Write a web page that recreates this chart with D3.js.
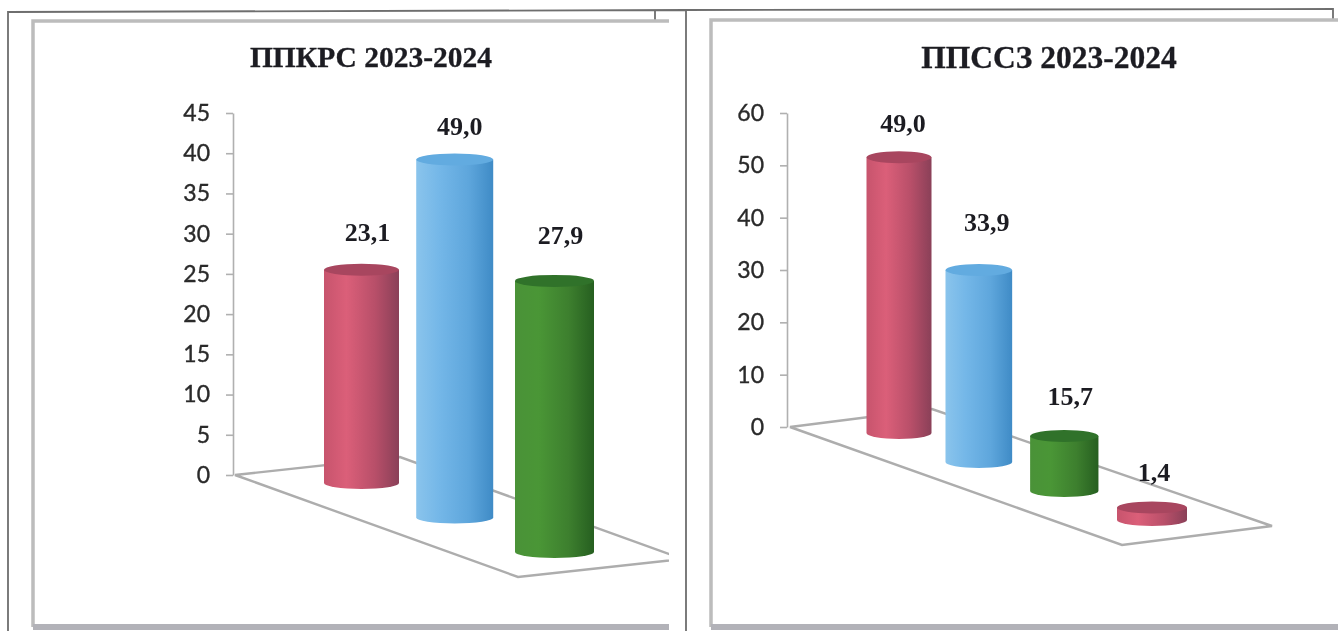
<!DOCTYPE html>
<html>
<head>
<meta charset="utf-8">
<script src="https://cdn.jsdelivr.net/npm/d3@7"></script>
<style>
body { margin: 0; background: #fff; }
svg { display: block; filter: blur(0.5px); }
</style>
</head>
<body>
<svg id="chart" width="1338" height="631"></svg>
<script>
// data
// NB: the printed labels do not agree with the bar heights in the original, so both are kept
var leftTitle = "ППКРС 2023-2024";
var leftTicks = [0, 5, 10, 15, 20, 25, 30, 35, 40, 45];
var leftBars = [26.5, 44.5, 33.7];          // height against the axis
var leftLabels = ["23,1", "49,0", "27,9"];  // printed text
var leftColors = ["red", "blue", "green"];

var rightTitle = "ППССЗ 2023-2024";
var rightTicks = [0, 10, 20, 30, 40, 50, 60];
var rightBars = [52.7, 36.7, 10.5, 2.4];
var rightLabels = ["49,0", "33,9", "15,7", "1,4"];
var rightColors = ["red", "blue", "green", "red"];

var palette = {
    red: { left: "#c7546d", mid: "#db5f79", shade: "#b84f69", right: "#8a4058", top: "#a8465f" },
    blue: { left: "#8ac4ec", mid: "#74b7e8", shade: "#5ea6dc", right: "#3f8bc6", top: "#62abe0" },
    green: { left: "#4a9238", mid: "#4a9636", shade: "#3d7f2e", right: "#265f20", top: "#30722a" }
};

var svg = d3.select("#chart");
var defs = svg.append("defs");

Object.keys(palette).forEach(function (name) {
    var c = palette[name];
    var grad = defs.append("linearGradient").attr("id", "side-" + name);
    [[0, c.left], [0.3, c.mid], [0.68, c.shade], [1, c.right]].forEach(function (s) {
        grad.append("stop").attr("offset", s[0]).attr("stop-color", s[1]);
    });
});

// outer frames of the scanned page
var frameColor = "#6e6e6e";
svg.append("path")
    .attr("d", "M8,631V12L686,10L1333,9V20M655,10V20M686,10V631")
    .attr("fill", "none").attr("stroke", frameColor).attr("stroke-width", 1.8);

function drawChart(cfg) {
    var g = svg.append("g");
    var clipId = "clip-" + cfg.id;
    defs.append("clipPath").attr("id", clipId).append("rect")
        .attr("x", cfg.panelX - 2).attr("y", 0).attr("width", cfg.panelEnd - cfg.panelX + 2).attr("height", 631);
    var inner = g.append("g").attr("clip-path", "url(#" + clipId + ")");

    // panel border, thick at the bottom like the scan
    inner.append("path")
        .attr("d", "M" + cfg.panelX + ",627V" + cfg.panelTop + "H" + cfg.panelEnd)
        .attr("fill", "none").attr("stroke", "#bcbcbc").attr("stroke-width", 3.5);
    inner.append("line")
        .attr("x1", cfg.panelX).attr("x2", cfg.panelEnd).attr("y1", 627).attr("y2", 627)
        .attr("stroke", "#b2b2b8").attr("stroke-width", 6);

    inner.append("text")
        .attr("x", cfg.titleX).attr("y", cfg.titleY)
        .attr("text-anchor", "middle")
        .attr("font-family", "Liberation Serif").attr("font-weight", "bold")
        .attr("font-size", cfg.titleSize).attr("fill", "#1c1c22")
        .attr("stroke", "#1c1c22").attr("stroke-width", 0.3)
        .text(cfg.title);

    // floor
    inner.append("path")
        .attr("d", d3.line()(cfg.floor) + "Z")
        .attr("fill", "#fff").attr("stroke", "#adadad").attr("stroke-width", 2.4);

    // value axis
    var y = d3.scaleLinear().domain(d3.extent(cfg.ticks)).range(cfg.yRange);
    var axis = inner.append("g")
        .attr("transform", "translate(" + cfg.axisX + ",0)")
        .call(d3.axisLeft(y).tickValues(cfg.ticks).tickSize(7).tickPadding(16).tickSizeOuter(0));
    axis.selectAll("line,path").attr("stroke", "#b0b0b0").attr("stroke-width", 1.6);
    axis.selectAll("text")
        .attr("font-family", "Lato").attr("font-size", 23).attr("fill", "#2a2a2a")
        .attr("stroke", "#2a2a2a").attr("stroke-width", 0.35);

    // cylinders sit along the depth of the floor, nearer ones are lower and a bit wider
    var idx = d3.range(cfg.bars.length);
    var last = cfg.bars.length - 1;
    var cx = d3.scalePow().exponent(1.05).domain([0, last]).range(cfg.xRange);
    var baseY = d3.scaleLinear().domain([0, last]).range(cfg.baseRange);
    var radius = d3.scaleLinear().domain([0, last]).range(cfg.radiusRange);
    var ry = 6;

    var bars = inner.selectAll(".bar").data(idx).enter().append("g").attr("class", "bar");

    bars.append("path")
        .attr("fill", function (i) { return "url(#side-" + cfg.colors[i] + ")"; })
        .attr("d", function (i) {
            var r = radius(i), b = baseY(i), t = b - (y(0) - y(cfg.bars[i]));
            return "M" + (cx(i) - r) + "," + t +
                "V" + b +
                "A" + r + "," + ry + " 0 0 0 " + (cx(i) + r) + "," + b +
                "V" + t + "Z";
        });

    bars.append("ellipse")
        .attr("cx", function (i) { return cx(i); })
        .attr("cy", function (i) { return baseY(i) - (y(0) - y(cfg.bars[i])); })
        .attr("rx", function (i) { return radius(i); })
        .attr("ry", ry)
        .attr("fill", function (i) { return palette[cfg.colors[i]].top; });

    inner.selectAll(".value").data(idx).enter().append("text")
        .attr("class", "value")
        .attr("x", function (i) { return cx(i) + cfg.labelDx[i]; })
        .attr("y", function (i) { return baseY(i) - (y(0) - y(cfg.bars[i])) - cfg.labelGap[i]; })
        .attr("text-anchor", "middle")
        .attr("font-family", "Liberation Serif").attr("font-weight", "bold")
        .attr("font-size", 26).attr("fill", "#1c1c22")
        .text(function (i) { return cfg.labels[i]; });
}

drawChart({
    id: "left", title: leftTitle, ticks: leftTicks, bars: leftBars, labels: leftLabels, colors: leftColors,
    panelX: 33, panelTop: 21, panelEnd: 669,
    titleX: 371, titleY: 67, titleSize: 29.5,
    axisX: 233, yRange: [475, 113],
    floor: [[235, 475], [518, 577], [683, 559], [400, 457]],
    xRange: [361.5, 554.5], baseRange: [483, 552], radiusRange: [37.5, 39.5],
    labelGap: [29, 25, 37], labelDx: [6, 5, 6]
});

drawChart({
    id: "right", title: rightTitle, ticks: rightTicks, bars: rightBars, labels: rightLabels, colors: rightColors,
    panelX: 711, panelTop: 20, panelEnd: 1338,
    titleX: 1049, titleY: 68, titleSize: 31.5,
    axisX: 787, yRange: [427, 113],
    floor: [[790, 427], [1122, 545], [1272, 526], [932, 409]],
    xRange: [899, 1152], baseRange: [433, 520], radiusRange: [32.5, 35],
    labelGap: [25, 39, 31, 26], labelDx: [4, 8, 6, 2]
});
</script>
</body>
</html>
